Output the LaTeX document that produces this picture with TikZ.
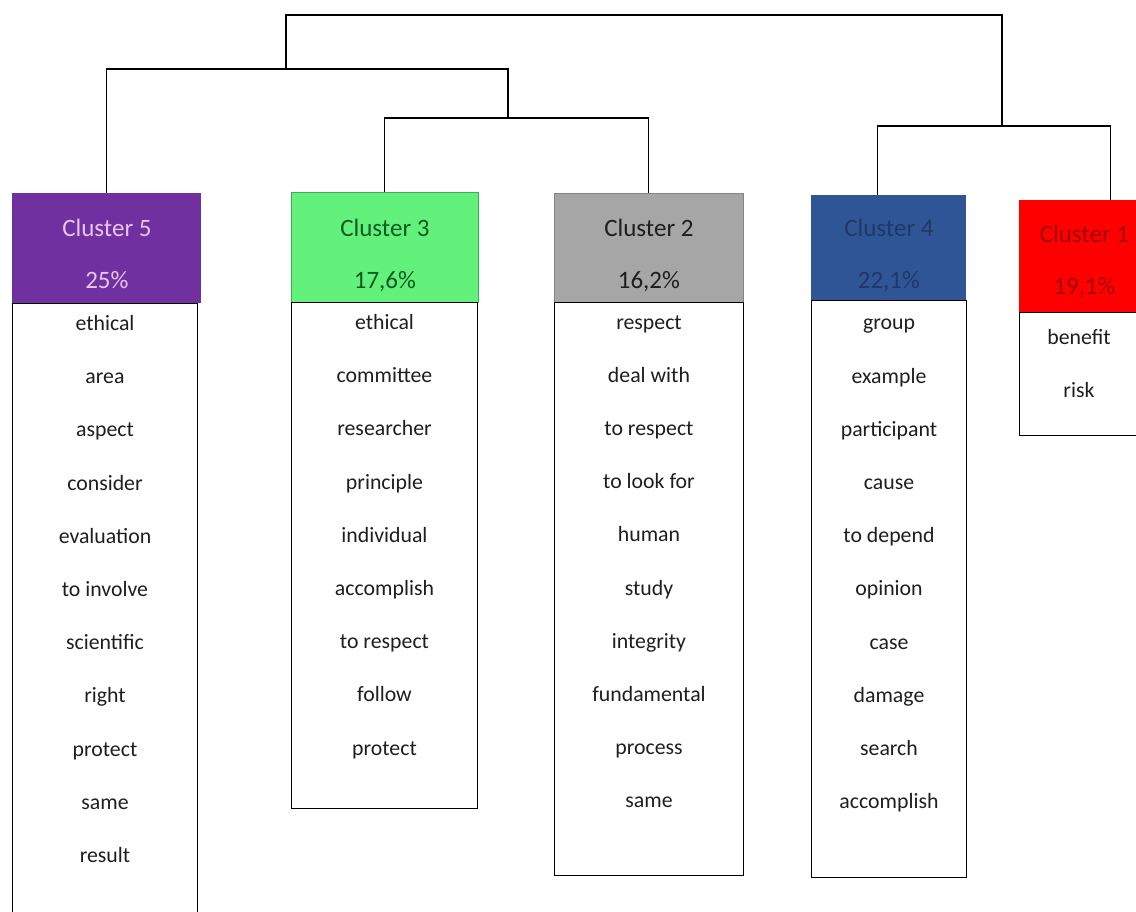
\documentclass[tikz,border=0pt]{standalone}
\usepackage{fontspec}
\setmainfont{Carlito}
\usetikzlibrary{positioning}

\definecolor{purp}{HTML}{7030A0}
\definecolor{purptxt}{HTML}{E6C6EE}
\definecolor{lgreen}{HTML}{62F27C}
\definecolor{dgreentxt}{HTML}{0D5A22}
\definecolor{lgray}{HTML}{A6A6A6}
\definecolor{dblue}{HTML}{2F5597}
\definecolor{dbluetxt}{HTML}{1F3864}
\definecolor{bred}{HTML}{FF0000}
\definecolor{bredtxt}{HTML}{A00000}
\definecolor{ink}{HTML}{1E1E1E}

\begin{document}
\begin{tikzpicture}[x=1pt, y=-1pt, thick,
    head/.style={rectangle, anchor=north west, inner sep=0pt},
    htext/.style={align=center, inner sep=0pt,
        font=\fontsize{25}{52}\selectfont},
    listbox/.style={rectangle, draw=black, line width=1pt, anchor=north west, inner sep=0pt},
    words/.style={align=center, inner sep=0pt, text=ink,
        font=\fontsize{21.8}{53.2}\selectfont},
    link/.style={draw=black, line width=1.1pt}]

    \useasboundingbox (0,0) rectangle (1136,912);

    % Headers

    \node[head, fill=purp, minimum width=189pt, minimum height=110pt] (h5) at (12,193) {}; %
    \node[head, fill=lgreen, draw=lgreen!70!black, minimum width=187pt, minimum height=110pt] (h3) at (291,192) {}; %
    \node[head, fill=lgray, draw=lgray!80!black, minimum width=189pt, minimum height=109pt] (h2) at (554,193) {}; %
    \node[head, fill=dblue, minimum width=155pt, minimum height=105pt] (h4) at (811,195) {}; %
    \node[head, fill=bred, minimum width=124pt, minimum height=112pt] (h1) at (1019,200) {}; %

    \node[htext, text=purptxt, below=26pt of h5.north] (t5) {Cluster 5\\25\%}; %
    \node[htext, text=dgreentxt, below=27pt of h3.north] (t3) {Cluster 3\\17,6\%}; %
    \node[htext, text=ink, below=26pt of h2.north] (t2) {Cluster 2\\16,2\%}; %
    \node[htext, text=dbluetxt, below=24pt of h4.north] (t4) {Cluster 4\\22,1\%}; %
    \node[htext, text=bredtxt, below=25pt of h1.north, xshift=3pt] (t1) {Cluster 1\\19,1\%}; %

    % Lists

    \node[listbox, minimum width=185pt, minimum height=615pt] (l5) at (12,303) {}; %
    \node[listbox, minimum width=186pt, minimum height=506pt] (l3) at (291,302) {}; %
    \node[listbox, minimum width=189pt, minimum height=573pt] (l2) at (554,302) {}; %
    \node[listbox, minimum width=155pt, minimum height=577pt] (l4) at (811,300) {}; %
    \node[listbox, minimum width=125pt, minimum height=123pt] (l1) at (1019,312) {}; %

    \node[words, below=12pt of l5.north] (w5) {ethical\\area\\aspect\\consider\\evaluation\\to involve\\scientific\\right\\protect\\same\\result}; %
    \node[words, below=12pt of l3.north] (w3) {ethical\\committee\\researcher\\principle\\individual\\accomplish\\to respect\\follow\\protect}; %
    \node[words, below=13pt of l2.north] (w2) {respect\\deal with\\to respect\\to look for\\human\\study\\integrity\\fundamental\\process\\same}; %
    \node[words, below=19pt of l4.north] (w4) {group\\example\\participant\\cause\\to depend\\opinion\\case\\damage\\search\\accomplish}; %
    \node[words, below=17pt of l1.north west, xshift=60pt] (w1) {benefit\\risk}; %

    % Dendrogram

    \coordinate (b532) at (508,69); %
    \coordinate (b32)  at (508,118); %
    \coordinate (top5) at (286,69); %
    \coordinate (root) at (1002,15); %
    \coordinate (b41)  at (1002,126); %

    \draw[link] (h5.north) |- (b532) -- (b32); %
    \draw[link] (h3.north) |- (b32) -| (h2.north); %
    \draw[link] ([xshift=-11pt]h4.north) |- (b41) -| ([xshift=29pt]h1.north); %
    \draw[link] (top5) |- (root) -- (b41); %

\end{tikzpicture}
\end{document}
